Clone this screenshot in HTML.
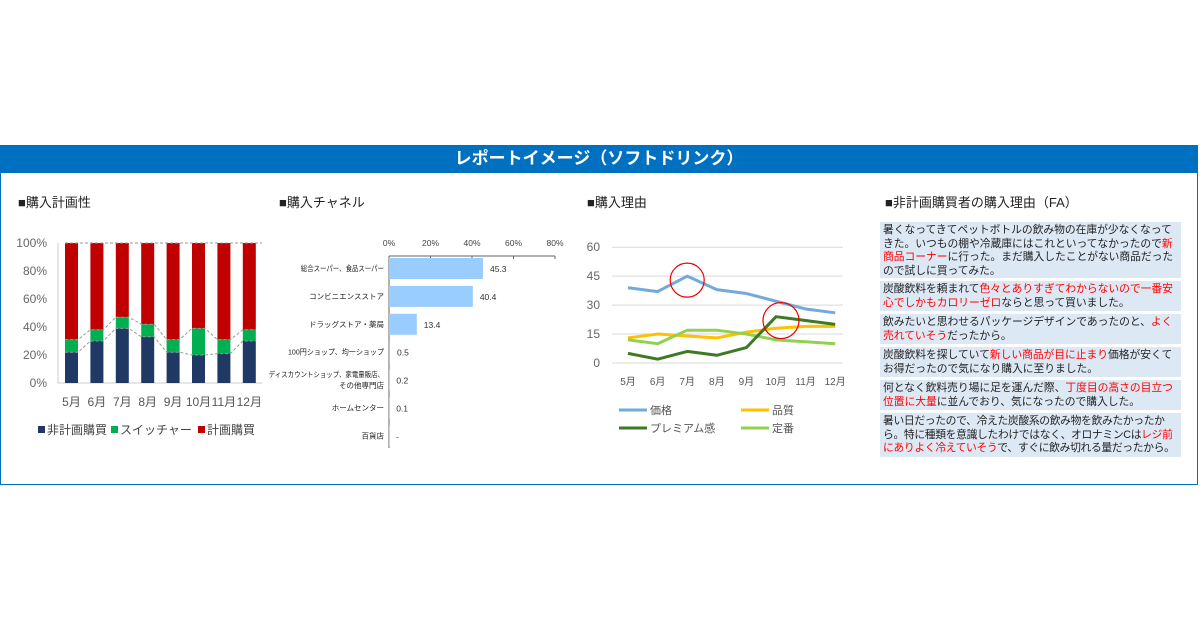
<!DOCTYPE html>
<html><head><meta charset="utf-8"><style>
body{margin:0;width:1200px;height:630px;background:#fff;font-family:"Liberation Sans","Noto Sans CJK JP",sans-serif;position:relative;overflow:hidden}
#frame{position:absolute;left:0;top:145px;width:1196px;height:338px;border:1px solid #0070c0}
#hdr{position:absolute;left:0;top:145px;width:1198px;height:28px;background:#0070c0;color:#fff;font-weight:bold;font-size:17px;text-align:center;line-height:28px}
.ttl{position:absolute;font-size:13px;color:#222}
.fa{position:absolute;left:880px;width:301px;background:#dde8f5;font-size:10.8px;line-height:13.6px;color:#222;padding:2px 2px 2px 3px;box-sizing:border-box;letter-spacing:-0.05px;word-break:break-all}
.r{color:#f00}
svg{position:absolute;left:0;top:0}
</style></head><body>
<div id="frame"></div>
<div id="hdr">レポートイメージ（ソフトドリンク）</div>
<div class="ttl" style="left:18px;top:192px">■購入計画性</div>
<div class="ttl" style="left:279px;top:192px">■購入チャネル</div>
<div class="ttl" style="left:587px;top:192px">■購入理由</div>
<div class="ttl" style="left:885px;top:192px">■非計画購買者の購入理由（FA）</div>
<div class="fa" style="top:222px;height:56px">暑くなってきてペットボトルの飲み物の在庫が少なくなってきた。いつもの棚や冷蔵庫にはこれといってなかったので<span class="r">新商品コーナー</span>に行った。まだ購入したことがない商品だったので試しに買ってみた。</div>
<div class="fa" style="top:281px;height:30px">炭酸飲料を頼まれて<span class="r">色々とありすぎてわからないので一番安心でしかもカロリーゼロ</span>ならと思って買いました。</div>
<div class="fa" style="top:314px;height:30px">飲みたいと思わせるパッケージデザインであったのと、<span class="r">よく売れていそう</span>だったから。</div>
<div class="fa" style="top:347px;height:30px">炭酸飲料を探していて<span class="r">新しい商品が目に止まり</span>価格が安くてお得だったので気になり購入に至りました。</div>
<div class="fa" style="top:380px;height:30px">何となく飲料売り場に足を運んだ際、<span class="r">丁度目の高さの目立つ位置に大量</span>に並んでおり、気になったので購入した。</div>
<div class="fa" style="top:413px;height:44px;letter-spacing:-0.35px">暑い日だったので、冷えた炭酸系の飲み物を飲みたかったから。特に種類を意識したわけではなく、オロナミンCは<span class="r">レジ前にありよく冷えていそう</span>で、すぐに飲み切れる量だったから。</div>
<svg id="s" width="1200" height="630"></svg>
<script>
const months=['5月','6月','7月','8月','9月','10月','11月','12月'];
const nonPlan=[22,30,39,33,22,20,21,30];
const switcher=[9,8,8,9,9,19,10,8];
const chanCats=['総合スーパー、食品スーパー','コンビニエンスストア','ドラッグストア・薬局','100円ショップ、均一ショップ','ディスカウントショップ、家電量販店、|その他専門店','ホームセンター','百貨店'];
const chanVals=[45.3,40.4,13.4,0.5,0.2,0.1,0];
const chanLabels=['45.3','40.4','13.4','0.5','0.2','0.1','-'];
const price=[39,37,45,38,36,32,28,26];
const quality=[13,15,14,13,16,18,19,19];
const premium=[5,2,6,4,8,24,22,20];
const teiban=[12,10,17,17,15,12,11,10];
const s=document.getElementById('s');const NS='http://www.w3.org/2000/svg';
function el(t,a,txt){const e=document.createElementNS(NS,t);for(const k in a)e.setAttribute(k,a[k]);if(txt!==undefined)e.textContent=txt;s.appendChild(e);return e;}
// chart1
const y1=v=>383-v*1.4, x1=i=>71.5+i*25.4;
[0,20,40,60,80,100].forEach(v=>{const t=el('text',{x:47,y:y1(v)+4,'text-anchor':'end','font-size':12,fill:'#666'},v+'%');
});
el('line',{x1:58,y1:243,x2:58,y2:383,stroke:'#ccc'});
el('line',{x1:58,y1:383,x2:262,y2:383,stroke:'#ccc'});
let p1='',p2='';
months.forEach((m,i)=>{const x=x1(i),w=13,a=nonPlan[i],b=a+switcher[i];
let r=el('rect',{x:x-w/2,y:y1(100),width:w,height:y1(b)-y1(100),fill:'#c00000'});
r=el('rect',{x:x-w/2,y:y1(b),width:w,height:y1(a)-y1(b),fill:'#00b050'});
r=el('rect',{x:x-w/2,y:y1(a),width:w,height:y1(0)-y1(a),fill:'#1f3864'});
p1+=(i?'L':'M')+(x-w/2)+' '+y1(a)+'L'+(x+w/2)+' '+y1(a);p2+=(i?'L':'M')+(x-w/2)+' '+y1(b)+'L'+(x+w/2)+' '+y1(b);
const t=el('text',{x:x,y:406,'text-anchor':'middle','font-size':12,fill:'#555'},m);});
el('path',{d:p1,fill:'none',stroke:'#999','stroke-dasharray':'3,2'});el('path',{d:p2,fill:'none',stroke:'#999','stroke-dasharray':'3,2'});
el('line',{x1:65,y1:243,x2:262,y2:243,stroke:'#999','stroke-dasharray':'3,2'});
[['#1f3864','非計画購買',38],['#00b050','スイッチャー',111],['#c00000','計画購買',198]].forEach(l=>{el('rect',{x:l[2],y:426,width:7,height:7,fill:l[0]});
const t=el('text',{x:l[2]+9,y:434,'font-size':12,fill:'#444'},l[1]);});
// chart2
const x2=v=>389+v*2.075, yc=i=>268+i*27.9;
[0,20,40,60,80].forEach(v=>{el('text',{x:x2(v),y:246,'text-anchor':'middle','font-size':8.5,fill:'#444'},v+'%');el('line',{x1:x2(v),y1:256,x2:x2(v),y2:259,stroke:'#666'});});
el('line',{x1:389,y1:256,x2:555,y2:256,stroke:'#666'});el('line',{x1:389,y1:256,x2:389,y2:448,stroke:'#666'});
chanCats.forEach((c,i)=>{const y=yc(i);const r=el('rect',{x:389,y:y-10,width:Math.max(x2(chanVals[i])-389,0.8),height:21,fill:'#99ccff'});

const parts=c.split('|');parts.forEach((p,j)=>{const t=el('text',{x:384,y:y+3+(j-(parts.length-1)/2)*11,'text-anchor':'end','font-size':7.5,fill:'#222'},p);
if(p.length>12)t.setAttribute('textLength',p.length*6.4),t.setAttribute('lengthAdjust','spacingAndGlyphs');});
const t=el('text',{x:x2(chanVals[i])+7,y:y+4,'font-size':8.5,fill:'#333'},chanLabels[i]);});
// chart3
const y3=v=>363-v*1.93, x3=i=>628+i*29.6;
[0,15,30,45,60].forEach(v=>{el('line',{x1:612,y1:y3(v),x2:843,y2:y3(v),stroke:'#d9d9d9'});el('text',{x:600,y:y3(v)+4,'text-anchor':'end','font-size':12,fill:'#666'},v);});
months.forEach((m,i)=>el('text',{x:x3(i),y:385,'text-anchor':'middle','font-size':10,fill:'#555'},m));
[[price,'#74a9db','price'],[quality,'#ffc000','quality'],[teiban,'#92d050','teiban'],[premium,'#3e7a24','premium']].forEach(sr=>{
const l=el('path',{d:sr[0].map((v,i)=>(i?'L':'M')+x3(i)+' '+y3(v)).join(''),fill:'none',stroke:sr[1],'stroke-width':3,'stroke-linejoin':'round'});
});
el('circle',{cx:x3(2),cy:y3(45)+4,r:17,fill:'none',stroke:'#e00','stroke-width':1.2});
el('circle',{cx:x3(5)+5,cy:y3(22),r:18,fill:'none',stroke:'#e00','stroke-width':1.2});
[['#74a9db','価格',619,410],['#ffc000','品質',741,410],['#3e7a24','プレミアム感',619,428],['#92d050','定番',741,428]].forEach(l=>{el('line',{x1:l[2],y1:l[3],x2:l[2]+28,y2:l[3],stroke:l[0],'stroke-width':3});
const t=el('text',{x:l[2]+31,y:l[3]+4,'font-size':11,fill:'#555'},l[1]);});
</script>
</body></html>
